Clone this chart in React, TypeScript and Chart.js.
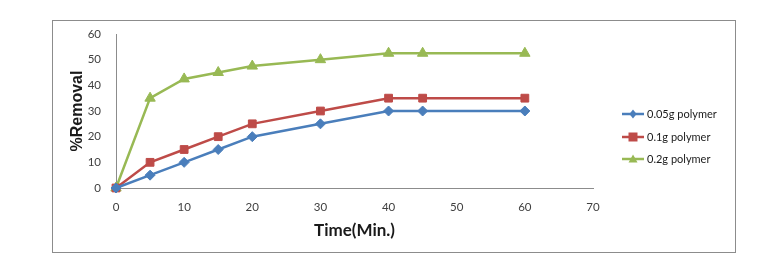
import React, { useEffect, useRef } from "react";
import { Chart, registerables } from "chart.js";

Chart.register(...registerables);

const timeMin = [0, 5, 10, 15, 20, 30, 40, 45, 60];
const series005 = [0, 5, 10, 15, 20, 25, 30, 30, 30];
const series01 = [0, 10, 15, 20, 25, 30, 35, 35, 35];
const series02 = [0, 35, 42.5, 45, 47.5, 50, 52.5, 52.5, 52.5];
const seriesLabels = ["0.05g polymer", "0.1g polymer", "0.2g polymer"];
const seriesColors = ["#4A7EBB", "#BE4B48", "#98B954"];
const seriesMarkers = ["rectRot", "rect", "triangle"];
const seriesRadius = [5, 5.5, 6];

const toXY = (vals: number[]) => vals.map((v, i) => ({ x: timeMin[i], y: v }));

function drawMarker(ctx: CanvasRenderingContext2D, style: string, x: number, y: number, r: number) {
  ctx.beginPath();
  if (style === "rectRot") {
    ctx.moveTo(x, y - r);
    ctx.lineTo(x + r * 0.8, y);
    ctx.lineTo(x, y + r);
    ctx.lineTo(x - r * 0.8, y);
  } else if (style === "rect") {
    ctx.rect(x - r, y - r, 2 * r, 2 * r);
  } else {
    ctx.moveTo(x, y - r);
    ctx.lineTo(x + r, y + r * 0.75);
    ctx.lineTo(x - r, y + r * 0.75);
  }
  ctx.closePath();
  ctx.fill();
}

const framePlugin = {
  id: "frame",
  afterDraw(chart: any) {
    const ctx = chart.ctx;
    ctx.save();
    ctx.strokeStyle = "#8c8c8c";
    ctx.lineWidth = 1;
    ctx.strokeRect(52.5, 20.5, 683, 232);
    const ys = [114, 137, 159];
    ctx.font = "11px Lato";
    ctx.textBaseline = "middle";
    ctx.textAlign = "left";
    for (let i = 0; i < 3; i++) {
      const y = ys[i];
      ctx.strokeStyle = seriesColors[i];
      ctx.lineWidth = 2.5;
      ctx.beginPath();
      ctx.moveTo(622, y);
      ctx.lineTo(644, y);
      ctx.stroke();
      ctx.fillStyle = seriesColors[i];
      drawMarker(ctx, seriesMarkers[i], 633, y, 4.5);
      ctx.fillStyle = "#1a1a1a";
      ctx.fillText(seriesLabels[i], 647, y);
    }
    ctx.restore();
  },
};

export default function App() {
  const ref = useRef<HTMLCanvasElement>(null);
  useEffect(() => {
    if (!ref.current) return;
    const allSeries = [series005, series01, series02];
    const chart = new Chart(ref.current, {
      type: "line",
      data: {
        datasets: allSeries.map((s, i) => ({
          label: seriesLabels[i],
          data: toXY(s),
          borderColor: seriesColors[i],
          backgroundColor: seriesColors[i],
          borderWidth: 2.5,
          pointStyle: seriesMarkers[i] as any,
          pointRadius: seriesRadius[i],
          pointBorderWidth: 1,
          pointBackgroundColor: seriesColors[i],
          pointBorderColor: seriesColors[i],
          tension: 0,
          clip: false as any,
        })),
      },
      options: {
        animation: false,
        responsive: false,
        layout: { padding: { left: 52, right: 186, top: 34, bottom: 14 } },
        plugins: { legend: { display: false }, tooltip: { enabled: false } },
        scales: {
          x: {
            type: "linear",
            min: 0,
            max: 70,
            grid: { display: false },
            border: { display: true, color: "#8c8c8c", width: 1 },
            ticks: {
              stepSize: 10,
              color: "#404040",
              font: { family: "Lato", size: 11.5 },
              padding: 4,
            },
            title: {
              display: true,
              text: "Time(Min.)",
              color: "#1a1a1a",
              font: { family: "Lato", size: 17, weight: "bold" },
              padding: { top: 0, bottom: 11 },
            },
            afterFit: (s: any) => {
              s.height = 64;
            },
          },
          y: {
            min: 0,
            max: 60,
            grid: { display: false },
            border: { display: true, color: "#8c8c8c", width: 1 },
            ticks: {
              stepSize: 10,
              color: "#404040",
              font: { family: "Lato", size: 11.5 },
              padding: 7,
            },
            title: {
              display: true,
              text: "%Removal",
              color: "#1a1a1a",
              font: { family: "Liberation Sans", size: 16, weight: "bold" },
              padding: { top: 16, bottom: 0 },
            },
            afterFit: (s: any) => {
              s.width = 64;
            },
          },
        },
      },
      plugins: [framePlugin],
    });
    return () => chart.destroy();
  }, []);
  return (
    <div style={{ position: "fixed", left: 0, top: 0, width: 779, height: 266, background: "#fff" }}>
      <canvas ref={ref} width={779} height={266} style={{ width: 779, height: 266, display: "block" }} />
    </div>
  );
}
